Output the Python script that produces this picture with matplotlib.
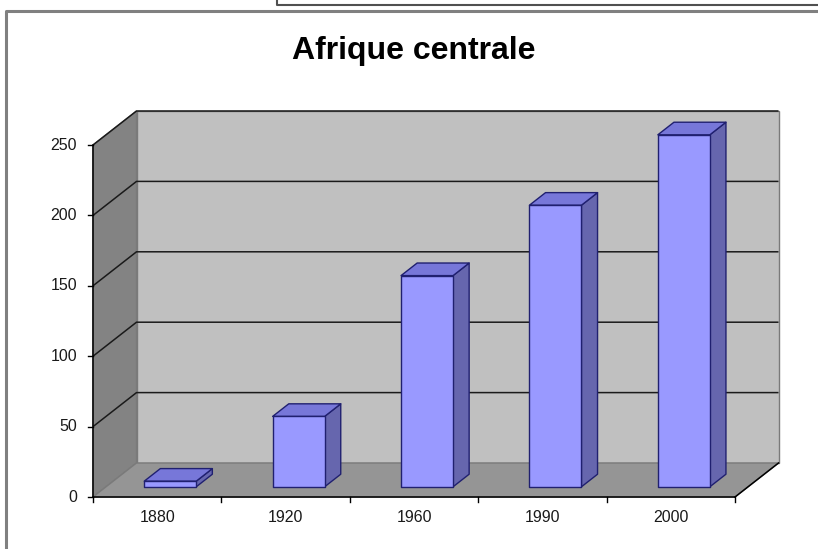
import matplotlib
matplotlib.use("Agg")
import matplotlib.pyplot as plt
from matplotlib.patches import Polygon
from matplotlib.lines import Line2D

# ---- data ----
title = "Afrique centrale"
categories = ["1880", "1920", "1960", "1990", "2000"]
values = [4, 50, 150, 200, 250]
y_ticks = [0, 50, 100, 150, 200, 250]

# ---- style ----
plt.rcParams['font.family'] = ['Liberation Sans', 'DejaVu Sans']
W, H = 818, 549
fig = plt.figure(figsize=(W / 100, H / 100), dpi=100)
fig.patch.set_facecolor('white')

# plot mapping (front plane): category centre i, value v
left_px, right_px = 93, 735
zero_py, top_py = 497, 145
cat_w = (right_px - left_px) / len(categories)
px_per_unit = (zero_py - top_py) / y_ticks[-1]

ax = fig.add_axes([0, 0, 1, 1])
ax.set_xlim(-0.5 - left_px / cat_w, -0.5 + (W - left_px) / cat_w)
ax.set_ylim((zero_py - H) / px_per_unit, zero_py / px_per_unit)
ax.axis('off')

DX = 43.5 / cat_w          # depth offset in category units
DY = 34 / px_per_unit      # depth offset in value units
x0, x1 = -0.5, len(categories) - 0.5
vmax = y_ticks[-1]

wall_c, side_c, floor_c = '#C0C0C0', '#838383', '#959595'
edge_grey = '#7a7a7a'

# back wall
ax.add_patch(Polygon([(x0 + DX, DY), (x1 + DX, DY), (x1 + DX, vmax + DY), (x0 + DX, vmax + DY)],
                     closed=True, facecolor=wall_c, edgecolor=edge_grey, lw=1, zorder=1))
# left side wall
ax.add_patch(Polygon([(x0, 0), (x0 + DX, DY), (x0 + DX, vmax + DY), (x0, vmax)],
                     closed=True, facecolor=side_c, edgecolor=edge_grey, lw=1, zorder=1))
# floor
ax.add_patch(Polygon([(x0, 0), (x1, 0), (x1 + DX, DY), (x0 + DX, DY)],
                     closed=True, facecolor=floor_c, edgecolor=edge_grey, lw=1, zorder=1))

# gridlines
for t in y_ticks[1:]:
    ax.plot([x0, x0 + DX, x1 + DX], [t, t + DY, t + DY], color='#1a1a1a', lw=1.1, zorder=2,
            solid_capstyle='butt')

# axes lines
ax.plot([x0, x0], [0, vmax], color='black', lw=1.1, zorder=3)
ax.plot([x0, x1], [0, 0], color='black', lw=1.1, zorder=3)
ax.plot([x1, x1 + DX], [0, DY], color='black', lw=1.1, zorder=3)

tick_dx = 5 / cat_w
tick_dy = 5 / px_per_unit
for t in y_ticks:
    ax.plot([x0 - tick_dx, x0], [t, t], color='black', lw=1, zorder=3)
    ax.annotate(str(t), xy=(x0, t), xytext=(-16, 0), textcoords='offset pixels',
                ha='right', va='center', fontsize=11.5, color='#1a1a1a')
for k in range(len(categories) + 1):
    ax.plot([x0 + k, x0 + k], [0, -tick_dy], color='black', lw=1, zorder=3)
for i, c in enumerate(categories):
    ax.annotate(c, xy=(i, 0), xytext=(0, -21), textcoords='offset pixels',
                ha='center', va='center', fontsize=11.5, color='#1a1a1a')

# bars
bw = 0.405
f0, f1 = 0.30, 0.67
front_c, top_c, sidebar_c, bar_edge = '#9999FF', '#7777D9', '#6666AE', '#202070'
for i, v in enumerate(values):
    xl, xr = i - bw / 2, i + bw / 2
    a, b = f0 * DX, f0 * DY
    c, d = f1 * DX, f1 * DY
    side = [(xr + a, b), (xr + c, d), (xr + c, v + d), (xr + a, v + b)]
    top = [(xl + a, v + b), (xr + a, v + b), (xr + c, v + d), (xl + c, v + d)]
    front = [(xl + a, b), (xr + a, b), (xr + a, v + b), (xl + a, v + b)]
    for poly, col in ((side, sidebar_c), (top, top_c), (front, front_c)):
        ax.add_patch(Polygon(poly, closed=True, facecolor=col, edgecolor=bar_edge,
                             lw=1, joinstyle='round', zorder=4))

# title
fig.text(414 / W, 1 - 59 / H, title, ha='center', va='baseline',
         fontsize=23, fontweight='bold', color='black')

# outer frames
def fl(xs, ys, **kw):
    fig.add_artist(Line2D([x / W for x in xs], [1 - y / H for y in ys],
                          transform=fig.transFigure, **kw))

fl([6, 6, W], [H, 11, 11], color='#808080', lw=2.2)
fl([277, 277, W], [0, 5, 5], color='#505050', lw=1.5)

fig.savefig('out.png', dpi=100)
